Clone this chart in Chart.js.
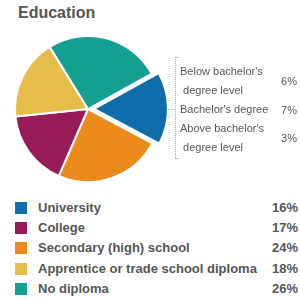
<!DOCTYPE html>
<html>
<head>
<meta charset="utf-8">
<script src="https://cdn.jsdelivr.net/npm/chart.js@4"></script>
<style>
  body { margin: 0; background: #fff; font-family: "Liberation Sans", Arial, sans-serif; color: #555; }
  #wrap { position: relative; width: 300px; height: 300px; overflow: hidden; }
  #title { position: absolute; left: 18px; top: 5px; font-size: 16px; line-height: 16px; font-weight: bold; }
  #pieBox { position: absolute; left: 0; top: 29px; width: 176px; height: 160px; }
  .dot { position: absolute; border-color: #aaa; border-style: dotted; border-width: 0; }
  #sub { position: absolute; left: 180px; top: 62px; width: 117px; font-size: 11px; }
  #sub .item { position: relative; }
  #sub .ln { line-height: 19px; height: 19px; white-space: pre; }
  #sub .pct { position: absolute; right: 0; top: 50%; transform: translateY(-50%); line-height: 19px; }
  #legend { position: absolute; left: 15px; top: 198px; width: 283px; font-size: 13px; font-weight: bold; }
  #legend .row { position: relative; height: 20.2px; line-height: 20px; }
  #legend .sw { position: absolute; left: 0; top: 4px; width: 12px; height: 12px; }
  #legend .lab { position: absolute; left: 23px; top: 0; }
  #legend .val { position: absolute; right: 0; top: 0; }
</style>
</head>
<body>
<div id="wrap">
  <div id="title">Education</div>
  <div id="pieBox"><canvas id="pie"></canvas></div>
  <div class="dot" style="left:175px; top:57px; height:101px; border-left-width:1px;"></div>
  <div class="dot" style="left:175px; top:57px; width:4px; border-top-width:1px;"></div>
  <div class="dot" style="left:175px; top:158px; width:4px; border-top-width:1px;"></div>
  <div class="dot" style="left:168px; top:109px; width:7px; border-top-width:1px;"></div>
  <div id="sub"></div>
  <div id="legend"></div>
</div>
<script>
// legend order
var categories = ['University', 'College', 'Secondary (high) school', 'Apprentice or trade school diploma', 'No diploma'];
var shares = [16, 17, 24, 18, 26];
var colors = ['#0f6dab', '#961b57', '#ec8b1b', '#e6bc4b', '#14a091'];
// order of slices going round the pie
var pieOrder = [0, 2, 1, 3, 4];

// breakdown of University
var subLabels = [["Below bachelor's", " degree level"], ["Bachelor's degree"], ["Above bachelor's", " degree level"]];
var subShares = [6, 7, 3];

var pieLabels = pieOrder.map(function(i) { return categories[i]; });
var pieValues = pieOrder.map(function(i) { return shares[i]; });
var pieColors = pieOrder.map(function(i) { return colors[i]; });
// chart.js moves an offset slice by about a quarter of this value
var pieOffsets = pieOrder.map(function(i) { return i === 0 ? 24 : 0; });

new Chart(document.getElementById('pie').getContext('2d'), {
    type: 'pie',
    data: {
        labels: pieLabels,
        datasets: [{
            data: pieValues,
            backgroundColor: pieColors,
            borderColor: '#fff',
            borderWidth: 2,
            offset: pieOffsets
        }]
    },
    options: {
        responsive: true,
        maintainAspectRatio: false,
        animation: false,
        rotation: 61,
        radius: 73,
        layout: { padding: 0 },
        plugins: {
            legend: { display: false },
            tooltip: { enabled: false }
        }
    }
});

var sub = document.getElementById('sub');
subLabels.forEach(function(lines, k) {
    var item = document.createElement('div');
    item.className = 'item';
    lines.forEach(function(t) {
        var ln = document.createElement('div');
        ln.className = 'ln';
        ln.textContent = t;
        item.appendChild(ln);
    });
    var p = document.createElement('div');
    p.className = 'pct';
    p.textContent = subShares[k] + '%';
    item.appendChild(p);
    sub.appendChild(item);
});

var legend = document.getElementById('legend');
categories.forEach(function(c, i) {
    var row = document.createElement('div');
    row.className = 'row';
    row.innerHTML = '<div class="sw" style="background:' + colors[i] + '"></div>' +
        '<div class="lab"></div><div class="val"></div>';
    row.querySelector('.lab').textContent = c;
    row.querySelector('.val').textContent = shares[i] + '%';
    legend.appendChild(row);
});
</script>
</body>
</html>
